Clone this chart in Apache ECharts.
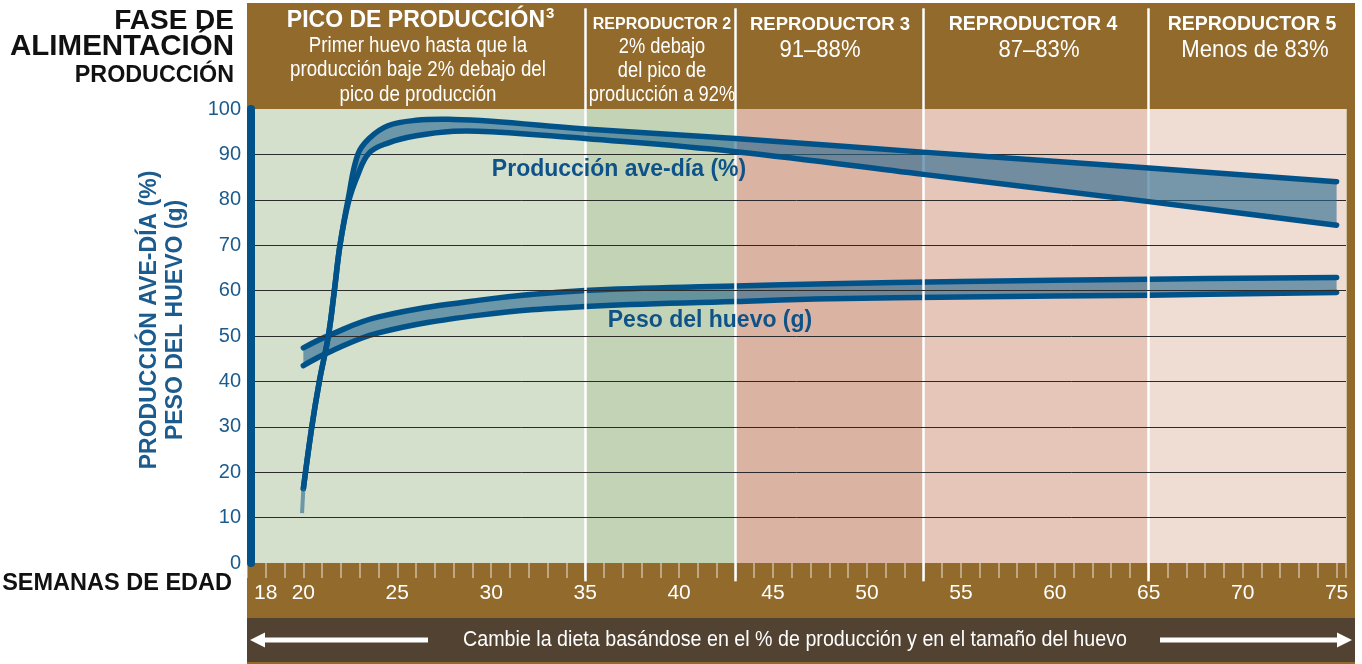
<!DOCTYPE html>
<html>
<head>
<meta charset="utf-8">
<script src="https://cdn.jsdelivr.net/npm/echarts@6/dist/echarts.min.js"></script>
<style>
  html, body { margin: 0; padding: 0; background: #ffffff; }
  #chart { width: 1362px; height: 664px; }
</style>
</head>
<body>
<div id="chart"></div>
<script>
// Hen-day production band (%), by week of age
const weeksProd = [20, 20.45, 20.85, 21.33, 21.65, 21.95, 22.4, 22.9, 23.5, 24.5, 26, 28, 30, 35, 43, 53, 65, 75];
const prodUpper = [16.4, 30, 40, 50, 60, 70, 80.5, 90, 93.5, 96.3, 97.5, 97.7, 97.3, 95.6, 93.5, 90.5, 87.0, 84.0];
const prodLower = [16.4, 30, 40, 50, 60, 70, 79.5, 85.5, 90.3, 92.5, 94.1, 95.1, 95.0, 93.5, 90.6, 85.6, 79.6, 74.4];
// faded lead-in below the first production point
const prodLeadIn = [[20, 16.4], [19.93, 11]];

// Egg weight band (g), by week of age
const weeksEgg = [20, 21.4, 24, 29.4, 35, 43, 48, 55, 65, 75];
const eggUpper = [47.4, 50.2, 54.2, 57.9, 60.0, 61.0, 61.5, 62.0, 62.5, 62.9];
const eggLower = [43.5, 46.5, 50.7, 54.6, 56.5, 57.6, 58.2, 58.6, 59.0, 59.6];

// Feeding phases (week boundaries) and their background tints
const phaseBreaks = [17, 35, 43, 53, 65, 75.5];
const phaseColors = ['#d4dfcc', '#c2d4b5', '#dbb3a2', '#e5c6b8', '#efdcd3'];
const phaseDividers = [35, 43, 53, 65];

// Axis ticks
const weekTickLabels = [18, 20, 25, 30, 35, 40, 45, 50, 55, 60, 65, 70, 75];
const yGridValues = [10, 20, 30, 40, 50, 60, 70, 80, 90];
const X_MIN = 17, X_MAX = 75.5;

const SANS = '"Liberation Sans", Arial, sans-serif';
const BROWN = '#916a2c';
const DARK = '#524231';
const LINE_BLUE = '#02528a';
const LABEL_BLUE = '#1b5b8e';
const BAND_FILL = 'rgba(37,103,144,0.6)';
const SMOOTH = 0.4;

const rows = (xs, lo, up) => xs.map((x, i) => [x, lo[i], up[i]]);

// Draws a whole band (fill between lower and upper, plus both edge lines)
// from its rows, placed through the axis scales with api.coord.
// End points are doubled in the outline so the closed smoothing keeps the
// two band ends straight instead of rounding them outwards.
function makeBandRenderer(bandRows) {
  return function (params, api) {
    if (params.dataIndex !== 0) return null;
    const lo = bandRows.map(r => api.coord([r[0], r[1]]));
    const up = bandRows.map(r => api.coord([r[0], r[2]]));
    const loRev = lo.slice().reverse();
    const outline = up.concat([up[up.length - 1], loRev[0]], loRev, [lo[0], up[0]]);
    const edge = pts => ({
      type: 'polyline', silent: true,
      shape: { points: pts, smooth: SMOOTH },
      style: { stroke: LINE_BLUE, lineWidth: 5.5, lineCap: 'round', lineJoin: 'round', fill: null }
    });
    return {
      type: 'group',
      children: [
        { type: 'polygon', silent: true,
          shape: { points: outline, smooth: SMOOTH },
          style: { fill: BAND_FILL, stroke: null } },
        edge(lo),
        edge(up)
      ]
    };
  };
}

function bandSeries(name, bandRows, z) {
  return {
    type: 'custom', name: name, xAxisIndex: 0, yAxisIndex: 0, z: z, silent: true, clip: true,
    data: bandRows, encode: { x: 0, y: [1, 2] }, renderItem: makeBandRenderer(bandRows)
  };
}

function txt(text, x, y, size, bold, fill, align, extra) {
  return Object.assign({
    type: 'text', x: x, y: y, z: 20, silent: true,
    style: { text: text, x: 0, y: 0, font: (bold ? 'bold ' : '') + size + 'px ' + SANS,
      fill: fill, align: align || 'center', verticalAlign: 'middle' }
  }, extra || {});
}
// condensed caption text
const ctxt = (text, x, y, size, fill, sx) => txt(text, x, y, size, false, fill, 'center', { scaleX: sx });

const chart = echarts.init(document.getElementById('chart'), null, { renderer: 'canvas' });

const option = {
  animation: false,
  backgroundColor: '#ffffff',
  grid: [
    { left: 247, top: 109, width: 1099, height: 454 },   // plot
    { left: 247, top: 3, width: 1099, height: 106 },     // phase header
    { left: 247, top: 563, width: 1099, height: 54 }     // week strip
  ],
  xAxis: [
    { gridIndex: 0, type: 'value', min: X_MIN, max: X_MAX, interval: 1, z: 1,
      axisLine: { show: false }, axisTick: { show: false }, axisLabel: { show: false },
      splitLine: { show: true, lineStyle: { color: 'rgba(255,255,255,0.78)', width: 1.5 } } },
    { gridIndex: 1, type: 'value', min: X_MIN, max: X_MAX, show: false },
    { gridIndex: 2, type: 'value', min: X_MIN, max: X_MAX, interval: 1, position: 'top', z: 5,
      axisLine: { show: false },
      axisTick: { show: true, inside: true, length: 15, lineStyle: { color: 'rgba(255,255,255,0.55)', width: 1.5 } },
      axisLabel: { show: true, inside: true, margin: 20, color: '#ffffff', fontSize: 21, fontFamily: SANS,
        formatter: v => weekTickLabels.indexOf(v) >= 0 ? String(v) : '' },
      splitLine: { show: false } }
  ],
  yAxis: [
    { gridIndex: 0, type: 'value', min: 0, max: 100, interval: 10, offset: -4, z: 6,
      axisLine: { show: true, lineStyle: { color: LINE_BLUE, width: 8 } },
      axisTick: { show: false },
      axisLabel: { color: LABEL_BLUE, fontSize: 20, fontFamily: SANS, margin: 10 },
      splitLine: { show: false } },
    { gridIndex: 1, type: 'value', min: 0, max: 1, show: false },
    { gridIndex: 2, type: 'value', min: 0, max: 1, inverse: true, show: false }
  ],
  graphic: [
    // right frame and bottom banner
    { type: 'rect', z: 0, silent: true, shape: { x: 1346, y: 3, width: 9, height: 614 }, style: { fill: BROWN } },
    { type: 'rect', z: 0, silent: true, shape: { x: 247, y: 563, width: 1108, height: 101 }, style: { fill: BROWN } },
    { type: 'rect', z: 0, silent: true, shape: { x: 247, y: 618, width: 1108, height: 44 }, style: { fill: DARK } },
    // banner arrows
    { type: 'rect', z: 20, silent: true, shape: { x: 260, y: 637.5, width: 168, height: 5 }, style: { fill: '#ffffff' } },
    { type: 'polygon', z: 20, silent: true, shape: { points: [[250, 640], [265, 632.5], [265, 647.5]] }, style: { fill: '#ffffff' } },
    { type: 'rect', z: 20, silent: true, shape: { x: 1160, y: 637.5, width: 180, height: 5 }, style: { fill: '#ffffff' } },
    { type: 'polygon', z: 20, silent: true, shape: { points: [[1352, 640], [1337, 632.5], [1337, 647.5]] }, style: { fill: '#ffffff' } },
    ctxt('Cambie la dieta basándose en el % de producción y en el tamaño del huevo', 795, 640, 21.5, '#ffffff', 0.915),

    // left titles
    txt('FASE DE', 234, 21, 28, true, '#111111', 'right'),
    txt('ALIMENTACIÓN', 234, 47, 29.5, true, '#111111', 'right'),
    txt('PRODUCCIÓN', 234, 76, 23.3, true, '#111111', 'right'),
    txt('SEMANAS DE EDAD', 232, 584, 23.5, true, '#111111', 'right'),

    // y-axis title
    txt('PRODUCCIÓN AVE-DÍA (%)', 150, 320, 23, true, LABEL_BLUE, 'center', { rotation: Math.PI / 2 }),
    txt('PESO DEL HUEVO (g)', 176, 320, 23, true, LABEL_BLUE, 'center', { rotation: Math.PI / 2 }),

    // phase header texts
    txt('PICO DE PRODUCCIÓN', 545, 21, 23, true, '#ffffff', 'right'),
    txt('3', 546, 14, 15, true, '#ffffff', 'left'),
    ctxt('Primer huevo hasta que la', 418, 46, 21.5, '#ffffff', 0.87),
    ctxt('producción baje 2% debajo del', 418, 70, 21.5, '#ffffff', 0.87),
    ctxt('pico de producción', 418, 95, 21.5, '#ffffff', 0.87),
    txt('REPRODUCTOR 2', 662, 25, 16, true, '#ffffff'),
    ctxt('2% debajo', 662, 47, 21.5, '#ffffff', 0.85),
    ctxt('del pico de', 662, 71, 21.5, '#ffffff', 0.85),
    ctxt('producción a 92%', 662, 95, 21.5, '#ffffff', 0.85),
    txt('REPRODUCTOR 3', 830, 25, 18.5, true, '#ffffff'),
    ctxt('91–88%', 820, 50, 24, '#ffffff', 0.92),
    txt('REPRODUCTOR 4', 1033, 25, 19.5, true, '#ffffff'),
    ctxt('87–83%', 1039, 50, 24, '#ffffff', 0.92),
    txt('REPRODUCTOR 5', 1252, 25, 19.5, true, '#ffffff'),
    ctxt('Menos de 83%', 1255, 50, 24, '#ffffff', 0.92),

    // curve labels
    txt('Producción ave-día (%)', 619, 170, 23, true, '#0f5288'),
    txt('Peso del huevo (g)', 710, 321, 23, true, '#0f5288')
  ],
  series: [
    // phase tints and dividers in the plot
    { type: 'line', xAxisIndex: 0, yAxisIndex: 0, data: [], silent: true, z: 0,
      markArea: { silent: true,
        data: phaseColors.map((c, i) => [{ xAxis: phaseBreaks[i], itemStyle: { color: c } }, { xAxis: phaseBreaks[i + 1] }]) },
      markLine: { silent: true, symbol: 'none', label: { show: false },
        lineStyle: { color: '#ffffff', width: 2.5, type: 'solid' },
        data: phaseDividers.map(v => ({ xAxis: v })) } },
    // horizontal grid lines
    { type: 'line', xAxisIndex: 0, yAxisIndex: 0, data: [], silent: true, z: 2,
      markLine: { silent: true, symbol: 'none', label: { show: false },
        lineStyle: { color: '#2b2b2b', width: 1, type: 'solid' },
        data: yGridValues.map(v => ({ yAxis: v })) } },
    // header background and dividers
    { type: 'line', xAxisIndex: 1, yAxisIndex: 1, data: [], silent: true, z: 0,
      markArea: { silent: true, itemStyle: { color: BROWN },
        data: [[{ xAxis: X_MIN }, { xAxis: X_MAX }]] },
      markLine: { silent: true, symbol: 'none', label: { show: false },
        lineStyle: { color: '#ffffff', width: 2.5, type: 'solid' },
        data: phaseDividers.map(v => [{ coord: [v, 0] }, { coord: [v, 0.95] }]) } },
    // longer ticks at phase boundaries in the week strip
    { type: 'line', xAxisIndex: 2, yAxisIndex: 2, data: [], silent: true, z: 6,
      markLine: { silent: true, symbol: 'none', label: { show: false },
        lineStyle: { color: '#ffffff', width: 2.5, type: 'solid' },
        data: phaseDividers.map(v => [{ coord: [v, 0] }, { coord: [v, 0.34] }]) } },

    // egg weight band
    bandSeries('Peso del huevo (g)', rows(weeksEgg, eggLower, eggUpper), 3),

    // production band, with its faded lead-in
    { type: 'line', xAxisIndex: 0, yAxisIndex: 0, data: prodLeadIn, symbol: 'none', silent: true, z: 5,
      lineStyle: { color: 'rgba(37,103,144,0.6)', width: 4, cap: 'butt' } },
    bandSeries('Producción ave-día (%)', rows(weeksProd, prodLower, prodUpper), 5)
  ]
};

chart.setOption(option);
</script>
</body>
</html>
